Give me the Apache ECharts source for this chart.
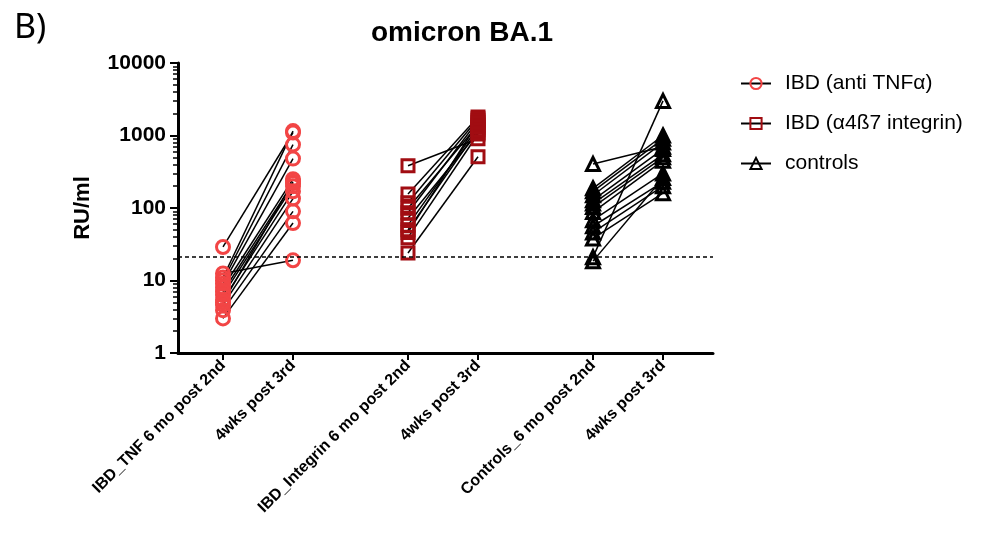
<!DOCTYPE html>
<html>
<head>
<meta charset="utf-8">
<script src="https://cdn.jsdelivr.net/npm/echarts@6/dist/echarts.min.js"></script>
<style>html,body{margin:0;padding:0;background:#fff}#c{width:996px;height:534px}</style>
</head>
<body>
<div id="c"></div>
<script>
// ---- data ----
const xCategories = ['IBD_TNF 6 mo post 2nd', '4wks post 3rd', 'IBD_Integrin 6 mo post 2nd', '4wks post 3rd', 'Controls_6 mo post 2nd', '4wks post 3rd'];
const yTicks = [1, 10, 100, 1000, 10000];
const threshold = 21;
const seriesNames = ['IBD (anti TNF\u03b1)', 'IBD (\u03b14\u00df7 integrin)', 'controls'];

const tnf6mo = [29, 12.5, 11, 10, 9, 8, 7, 6.3, 5.4, 4.6, 3.9, 3, 5];
const tnf4wks = [1100, 19, 1150, 750, 480, 250, 220, 200, 170, 135, 90, 62, 230];

const integrin6mo = [383, 156, 118, 99, 86, 72, 58, 50, 46, 39, 24];
const integrin4wks = [900, 1800, 1700, 1400, 1600, 1100, 1300, 1200, 1500, 1050, 510];

const controls6mo = [405, 21, 187, 170, 150, 128, 115, 103, 88, 68, 56, 46, 38, 18.5];
const controls4wks = [700, 3000, 1000, 900, 800, 650, 550, 500, 450, 300, 230, 200, 160, 260];

// ---- layout of category slots (spacing of the six category ticks) ----
const slotIndex = [9, 23, 46, 60, 83, 97];
const slotCount = 108;
const axisData = [];
for (let i = 0; i < slotCount; i++) axisData.push('s' + i);
const labelAt = {};
slotIndex.forEach((s, k) => { labelAt[s] = xCategories[k]; });

const groups = [
  { name: seriesNames[0], a: tnf6mo, b: tnf4wks, ca: 0, cb: 1, symbol: 'circle', size: 13, color: '#F24545' },
  { name: seriesNames[1], a: integrin6mo, b: integrin4wks, ca: 2, cb: 3, symbol: 'rect', size: 12, color: '#A10D12' },
  { name: seriesNames[2], a: controls6mo, b: controls4wks, ca: 4, cb: 5, symbol: 'triangle', size: 13, color: '#000000' }
];

const series = [];
groups.forEach(g => {
  for (let i = 0; i < g.a.length; i++) {
    series.push({
      type: 'line',
      name: g.name,
      data: [[slotIndex[g.ca], g.a[i]], [slotIndex[g.cb], g.b[i]]],
      symbol: g.symbol,
      symbolSize: g.size,
      showAllSymbol: true,
      animation: false,
      lineStyle: { color: '#000', width: 1.5 },
      itemStyle: { color: 'rgba(255,255,255,0)', borderColor: g.color, borderWidth: 3 },
      emphasis: { disabled: true }
    });
  }
});
series[0].markLine = {
  silent: true,
  symbol: 'none',
  label: { show: false },
  lineStyle: { color: '#000', type: [4, 3], width: 1.5 },
  data: [{ yAxis: threshold }]
};

const chart = echarts.init(document.getElementById('c'));
chart.setOption({
  animation: false,
  backgroundColor: '#fff',
  title: [
    { text: 'omicron BA.1', left: 457, top: 14, textAlign: 'center',
      textStyle: { fontFamily: 'Liberation Sans', fontWeight: 'bold', fontSize: 28, color: '#000' } },
    { text: 'B)', left: 9, top: 6,
      textStyle: { fontFamily: 'Noto Sans', fontWeight: 'normal', fontSize: 34, color: '#000' } }
  ],
  legend: {
    orient: 'vertical',
    left: 735,
    top: 68,
    itemGap: 19,
    itemWidth: 30,
    itemHeight: 14,
    data: seriesNames,
    textStyle: { fontFamily: 'Liberation Sans', fontSize: 21, color: '#000', padding: [0, 0, 0, 9] }
  },
  grid: { left: 178, right: 283, top: 63, bottom: 181, containLabel: false },
  xAxis: {
    type: 'category',
    data: axisData,
    boundaryGap: false,
    axisLine: { lineStyle: { color: '#000', width: 3 } },
    axisTick: { interval: (i) => labelAt[i] !== undefined, length: 7, lineStyle: { width: 2, color: '#000' } },
    axisLabel: {
      interval: (i) => labelAt[i] !== undefined,
      formatter: (v, i) => labelAt[i] || '',
      rotate: 45,
      margin: 10,
      fontFamily: 'Liberation Sans', fontWeight: 'bold', fontSize: 16, color: '#000'
    },
    splitLine: { show: false }
  },
  yAxis: {
    type: 'log',
    logBase: 10,
    min: yTicks[0],
    max: yTicks[yTicks.length - 1],
    name: 'RU/ml',
    nameLocation: 'middle',
    nameGap: 84,
    nameTextStyle: { fontFamily: 'Liberation Sans', fontWeight: 'bold', fontSize: 22, color: '#000' },
    axisLine: { show: true, lineStyle: { color: '#000', width: 3 } },
    axisTick: { show: true, length: 8, lineStyle: { width: 2, color: '#000' } },
    minorTick: { show: true, splitNumber: 9, length: 5, lineStyle: { width: 1.5, color: '#000' } },
    axisLabel: {
      formatter: (v) => String(Math.round(v)),
      margin: 12,
      fontFamily: 'Liberation Sans', fontWeight: 'bold', fontSize: 21, color: '#000'
    },
    splitLine: { show: false }
  },
  series: series
});
</script>
</body>
</html>
